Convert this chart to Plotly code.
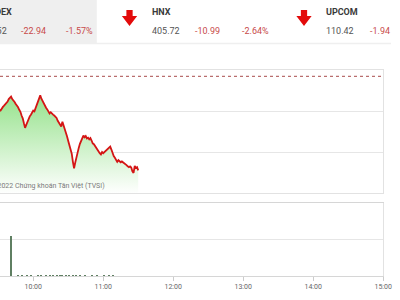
import plotly.graph_objects as go
import pandas as pd

# ---------------- data ----------------
session_date = "2022-01-18"
ref_close = 1461.46  # previous close (dashed reference line)

# VN-Index intraday, one value per minute from 09:30 to 11:30
price_start = "09:30"
price_values = [
    1453.0, 1453.3, 1453.1, 1453.7, 1454.0, 1454.3, 1454.6, 1455.0, 1455.3, 1455.9,
    1456.3, 1456.5, 1455.9, 1455.6, 1455.2, 1454.7, 1454.4, 1453.9, 1453.3, 1452.8,
    1451.9, 1451.2, 1450.0, 1448.9, 1449.6, 1450.4, 1451.1, 1451.7, 1452.1, 1452.8,
    1453.1, 1452.9, 1453.7, 1454.4, 1455.6, 1456.2, 1456.8, 1456.0, 1455.4, 1454.9,
    1454.1, 1453.8, 1453.4, 1453.0, 1452.4, 1452.7, 1452.3, 1452.1, 1451.9, 1451.6,
    1451.3, 1450.6, 1450.1, 1449.6, 1449.2, 1450.4, 1449.6, 1448.8, 1447.6, 1446.8,
    1445.7, 1444.8, 1443.8, 1442.6, 1440.6, 1439.0, 1440.4, 1441.9, 1443.2, 1444.0,
    1445.0, 1445.8, 1446.4, 1447.0, 1446.6, 1446.9, 1446.3, 1446.5, 1446.1, 1446.4,
    1445.8, 1445.1, 1444.9, 1444.4, 1443.9, 1443.5, 1443.1, 1442.7, 1442.4, 1443.0,
    1442.7, 1443.0, 1443.2, 1443.6, 1443.9, 1444.1, 1444.3, 1443.6, 1442.7, 1442.0,
    1441.6, 1441.1, 1440.6, 1441.0, 1440.8, 1440.5, 1440.7, 1440.5, 1440.4, 1440.0,
    1439.8, 1439.5, 1439.3, 1439.5, 1439.2, 1438.3, 1437.9, 1439.6, 1439.1, 1439.3,
    1438.52,
]

# volume (millions of shares)
volume_times = ["09:41", "09:47", "09:50", "09:55", "09:58", "10:04", "10:07", "10:11",
                "10:14", "10:17", "10:20", "10:23", "10:25", "10:28", "10:31", "10:34",
                "10:37", "10:40", "10:44", "10:50", "10:55", "11:01", "11:05", "11:08"]
volume_values = [11.0, 0.12, 0.1, 0.15, 0.1, 0.12, 0.1, 0.15,
                 0.12, 0.12, 0.15, 0.18, 0.15, 0.18, 0.12, 0.12,
                 0.1, 0.12, 0.1, 0.12, 0.1, 0.12, 0.15, 0.1]

x_range = ["09:31:30", "15:00:00"]
price_axis = [1433, 1463]
price_dtick = 10
volume_axis = [0, 20]
volume_dtick = 10

# header ticker board
index_names = ["VNINDEX", "HNX", "UPCOM"]
index_values = ["1438.52", "405.72", "110.42"]
index_changes = ["-22.94", "-10.99", "-1.94"]
index_pcts = ["-1.57%", "-2.64%", "-1.94%"]

watermark = "©2022 Chứng khoán Tân Việt (TVSI)"

# ---------------- build ----------------
price_times = pd.date_range(f"{session_date} {price_start}", periods=len(price_values), freq="min")
vol_times = pd.to_datetime([f"{session_date} {t}" for t in volume_times])
xr = [f"{session_date} {t}" for t in x_range]

W, H = 400, 300
def px(x):
    return x / W
def py(y):
    return 1 - y / H

RED = "#c84b4b"
FONT = "Roboto"

fig = go.Figure()
fig.add_trace(go.Scatter(
    x=price_times, y=price_values, mode="lines",
    line=dict(color="#d41515", width=1.8),
    fill="tozeroy",
    fillgradient=dict(type="vertical", start=1433, stop=1457,
                      colorscale=[[0, "rgba(255,255,255,1)"], [1, "rgb(150,226,140)"]]),
    xaxis="x", yaxis="y", hoverinfo="skip",
))
fig.add_trace(go.Bar(
    x=vol_times, y=volume_values, width=50000,
    marker=dict(color="#5f7f62", line=dict(width=0)),
    xaxis="x2", yaxis="y2", hoverinfo="skip",
))

xdom = [0, 392 / W]
line_col = "#e2e2e2"
grid_col = "#e6e6e6"

fig.update_layout(
    width=W, height=H, margin=dict(l=0, r=0, t=0, b=0),
    paper_bgcolor="white", plot_bgcolor="white", showlegend=False,
    bargap=0,
    xaxis=dict(domain=xdom, type="date", range=xr, showticklabels=False,
               showgrid=False, zeroline=False, showline=True, mirror=True,
               linecolor=line_col, linewidth=1, anchor="y"),
    yaxis=dict(domain=[py(193), py(70)], range=price_axis, tick0=price_axis[0],
               dtick=price_dtick, side="right", showticklabels=False,
               gridcolor=grid_col, zeroline=False, showline=True,
               linecolor=line_col, anchor="x"),
    xaxis2=dict(domain=xdom, type="date", range=xr, matches="x",
                tickformat="%H:%M", dtick=3600000, tick0=f"{session_date} 10:00",
                ticks="outside", ticklen=4, tickcolor="#cccccc",
                ticklabeloverflow="allow",
                tickfont=dict(family=FONT, size=7, color="#666666"),
                showgrid=False, zeroline=False, showline=True, mirror=True,
                linecolor="#d6d6d6", anchor="y2"),
    yaxis2=dict(domain=[py(276), py(203)], range=volume_axis, dtick=volume_dtick,
                side="right", showticklabels=False, gridcolor=grid_col,
                zeroline=False, showline=True, linecolor=line_col, anchor="x2"),
)

shapes = []
# header background for the first (selected) index
shapes.append(dict(type="rect", xref="paper", yref="paper", x0=px(-10), x1=px(99),
                   y0=py(43), y1=py(-5), fillcolor="#efefef", line=dict(width=0), layer="below"))
shapes.append(dict(type="line", xref="paper", yref="paper", x0=0, x1=1, y0=py(43.5), y1=py(43.5),
                   line=dict(color="#efefef", width=1.5)))
# reference line
shapes.append(dict(type="line", xref="x domain", yref="y", x0=0, x1=1, y0=ref_close, y1=ref_close,
                   line=dict(color="#a84a4a", width=1, dash="dot")))

# down arrows in the header
def arrow(cx):
    pts = [(cx - 3.2, 10), (cx + 3.2, 10), (cx + 3.2, 16), (cx + 7.8, 16), (cx, 26),
           (cx - 7.8, 16), (cx - 3.2, 16)]
    path = "M " + " L ".join(f"{px(a):.5f},{py(b):.5f}" for a, b in pts) + " Z"
    return dict(type="path", xref="paper", yref="paper", path=path,
                fillcolor="#e30b0b", line=dict(width=0))

block_arrow_x = [-45, 132.5, 311]
for cx in block_arrow_x:
    shapes.append(arrow(cx))
fig.update_layout(shapes=shapes)

ann = []
def text(x, y, s, anchor, color, size=9, bold=False):
    ann.append(dict(xref="paper", yref="paper", x=px(x), y=py(y), text=(f"<b>{s}</b>" if bold else s),
                    showarrow=False, xanchor=anchor, yanchor="middle",
                    font=dict(family=FONT, size=size, color=color)))

name_x = [-25, 153, 331]
for i in range(3):
    nx = name_x[i]
    if i == 0:
        text(14, 12, index_names[i], "right", "#3a3a3a", bold=True)
        text(9.5, 31, index_values[i], "right", "#555555")
    else:
        text(nx, 12, index_names[i], "left", "#3a3a3a", bold=True)
        text(nx, 31, index_values[i], "left", "#555555")
    text(19 + 178.5 * i, 31, index_changes[i], "left", RED)
    text(65.5 + 180 * i, 31, index_pcts[i], "left", RED)

text(109, 186, watermark, "right", "#7a7a7a", size=7)
fig.update_layout(annotations=ann)

fig.write_html("out.html")
